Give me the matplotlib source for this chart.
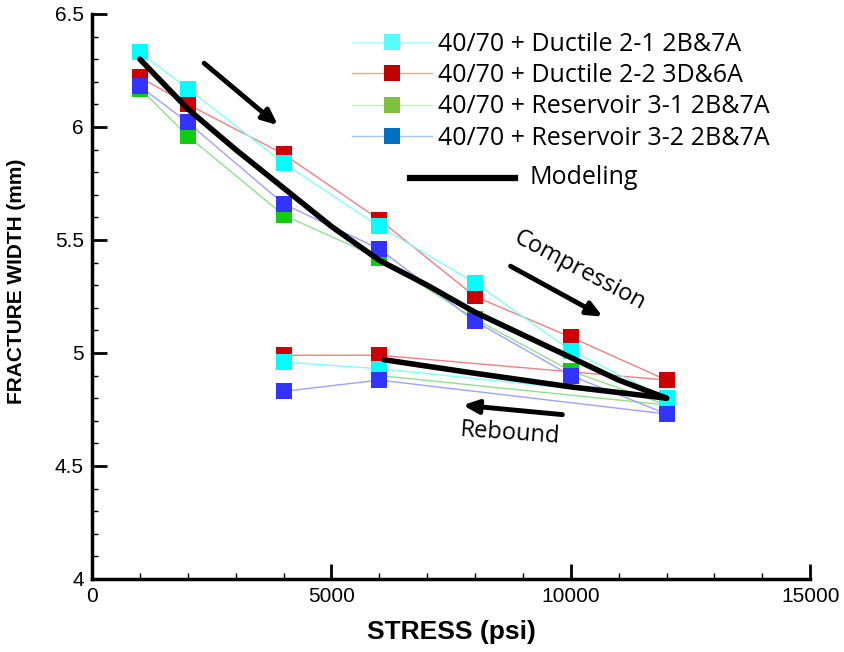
import matplotlib
matplotlib.use('Agg')
import matplotlib.pyplot as plt
from matplotlib.lines import Line2D
from matplotlib.ticker import MultipleLocator

# compression path then rebound path (12000 -> 6000 -> 4000)
stress = [1000, 2000, 4000, 6000, 8000, 10000, 12000, 6000, 4000]

ductile_21 = [6.33, 6.17, 5.84, 5.56, 5.31, 5.01, 4.80, 4.93, 4.96]
ductile_22 = [6.22, 6.10, 5.88, 5.59, 5.25, 5.07, 4.88, 4.99, 4.99]
reservoir_31 = [6.17, 5.96, 5.61, 5.42, 5.15, 4.92, 4.77, 4.90]   # no point at 4000 on rebound
reservoir_32 = [6.18, 6.02, 5.66, 5.46, 5.14, 4.90, 4.73, 4.88, 4.83]

labels = ['40/70 + Ductile 2-1 2B&7A', '40/70 + Ductile 2-2 3D&6A',
          '40/70 + Reservoir 3-1 2B&7A', '40/70 + Reservoir 3-2 2B&7A']

model_x = [1000, 2000, 3000, 4000, 5000, 6000, 7000, 8000, 9000, 10000, 11000, 12000]
model_y = [6.30, 6.08, 5.90, 5.73, 5.56, 5.41, 5.30, 5.18, 5.08, 4.98, 4.88, 4.80]
rebound_x = [12000, 10000, 8000, 6100]
rebound_y = [4.80, 4.85, 4.91, 4.97]

plt.rcParams['font.family'] = ['Liberation Sans', 'DejaVu Sans']
body_font = ['Open Sans', 'DejaVu Sans']

fig = plt.figure(figsize=(8.44, 6.52), dpi=100)
ax = fig.add_axes([0.109, 0.112, 0.851, 0.8666])

# draw order matters a bit: red under cyan, blue on top
series = [
    (ductile_22, '#f08080', '#cc0000', 3),
    (reservoir_31, '#90e090', '#11cc11', 4),
    (ductile_21, '#80ffff', '#00ffff', 5),
    (reservoir_32, '#a0a0ff', '#3333ff', 6),
]
for ys, lc, mc, z in series:
    xs = stress[:len(ys)]
    ax.plot(xs, ys, '-', color=lc, lw=1.0, zorder=z - 2)
    ax.plot(xs, ys, 's', color=mc, markersize=11.5, markeredgewidth=0, zorder=z)

ax.plot(model_x, model_y, '-', color='black', lw=4, zorder=10, solid_capstyle='round')
ax.plot(rebound_x, rebound_y, '-', color='black', lw=4, zorder=10, solid_capstyle='round')

# arrows and annotations
arrow = dict(arrowstyle='-|>,head_length=0.9,head_width=0.4', color='black', lw=3.5)
ax.annotate('', xy=(3927, 6.00), xytext=(2298, 6.29), arrowprops=arrow)
ax.annotate('', xy=(10716, 5.155), xytext=(8690, 5.39), arrowprops=arrow)
ax.annotate('', xy=(7687, 4.77), xytext=(9881, 4.726), arrowprops=arrow)
ax.text(10190, 5.365, 'Compression', rotation=-28, ha='center', va='center',
        fontsize=17, family=body_font)
ax.text(8732, 4.645, 'Rebound', rotation=-4, ha='center', va='center',
        fontsize=17, family=body_font)

# legend
handles = [
    Line2D([], [], color='#b0ffff', lw=1, marker='s', markersize=12, markerfacecolor='#55ffff', markeredgewidth=0),
    Line2D([], [], color='#f0a0a0', lw=1, marker='s', markersize=12, markerfacecolor='#c00000', markeredgewidth=0),
    Line2D([], [], color='#c0f0c0', lw=1, marker='s', markersize=12, markerfacecolor='#80c040', markeredgewidth=0),
    Line2D([], [], color='#a0c8f0', lw=1, marker='s', markersize=12, markerfacecolor='#0070c0', markeredgewidth=0),
]
leg = ax.legend(handles, labels, loc='upper left', bbox_to_anchor=(0.331, 1.008), frameon=False,
                handlelength=3.2, handletextpad=0.25, labelspacing=0.25, borderpad=0.4,
                prop={'family': body_font, 'size': 18})
ax.plot([0.443, 0.589], [0.710, 0.710], transform=ax.transAxes, color='black', lw=4.5, clip_on=False)
ax.text(0.609, 0.710, 'Modeling', transform=ax.transAxes, va='center', ha='left',
        fontsize=18, family=body_font)

ax.set_xlim(0, 15000)
ax.set_ylim(4, 6.5)
ax.set_xticks([0, 5000, 10000, 15000])
ax.set_yticks([4, 4.5, 5, 5.5, 6, 6.5])
ax.set_yticklabels(['4', '4.5', '5', '5.5', '6', '6.5'])
ax.xaxis.set_minor_locator(MultipleLocator(1000))
ax.yaxis.set_minor_locator(MultipleLocator(0.1))
ax.tick_params(which='major', direction='in', length=11, width=2, labelsize=15, pad=6)
ax.tick_params(which='minor', direction='in', length=4, width=1)
ax.spines['top'].set_visible(False)
ax.spines['right'].set_visible(False)
ax.spines['left'].set_linewidth(2.5)
ax.spines['bottom'].set_linewidth(2.5)

ax.set_xlabel('STRESS (psi)', fontsize=19, fontweight='bold', labelpad=10)
ax.set_ylabel('FRACTURE WIDTH (mm)', fontsize=15, fontweight='bold')
ax.yaxis.set_label_coords(-0.092, 0.527)

plt.savefig('out.png', dpi=100)
